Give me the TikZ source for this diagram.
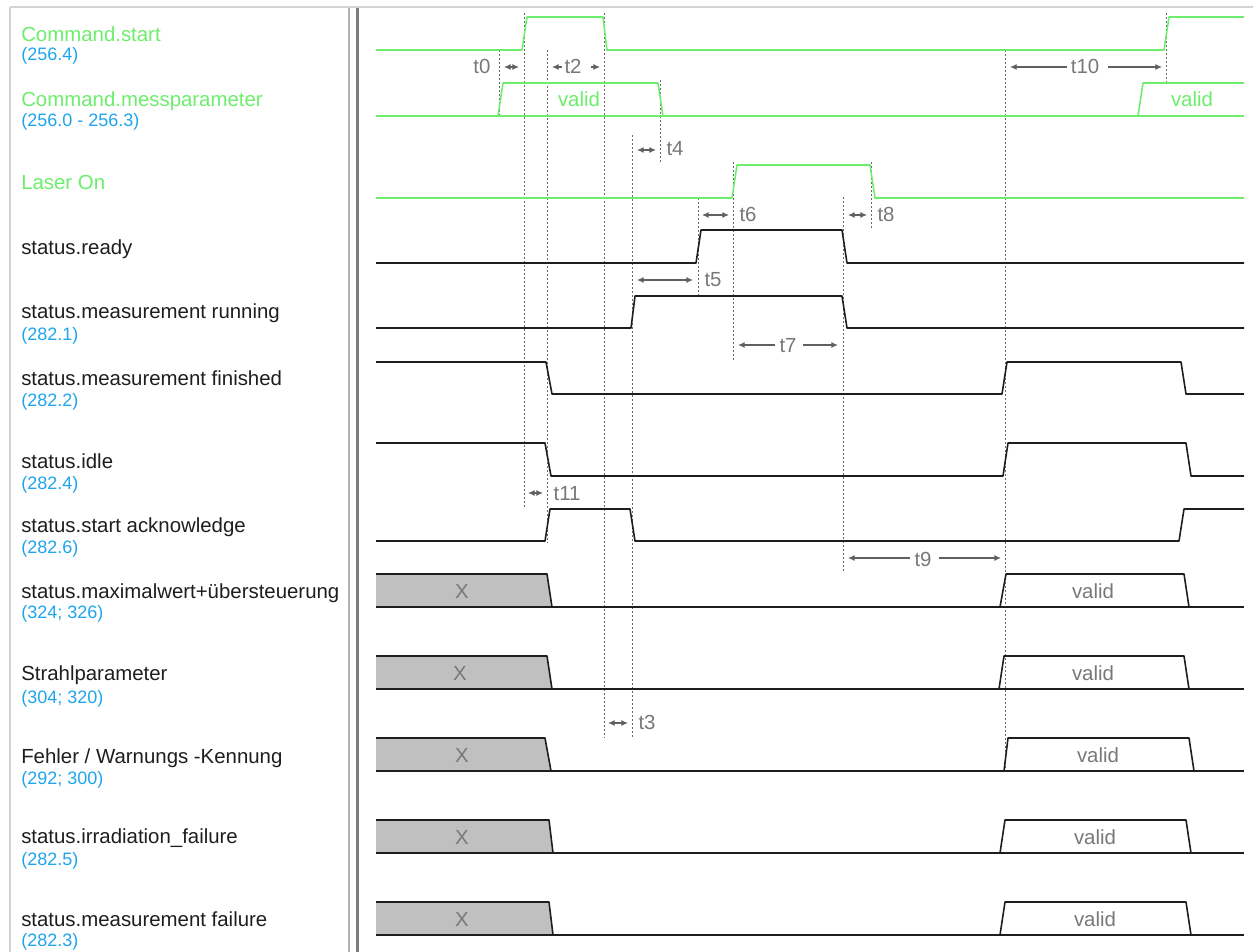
\documentclass[tikz,border=0pt]{standalone}
\usepackage{fontspec}
\setmainfont{Liberation Sans}
\usetikzlibrary{arrows.meta}
\definecolor{sgreen}{RGB}{108,238,108}
\definecolor{sblue}{RGB}{30,165,235}
\definecolor{tgray}{RGB}{120,120,120}
\definecolor{guidegray}{RGB}{105,105,105}
\definecolor{xgray}{RGB}{192,192,192}
\definecolor{framelight}{RGB}{212,212,212}
\definecolor{framedark}{RGB}{125,125,125}
\definecolor{ink}{RGB}{30,30,30}
\tikzset{
  gsig/.style={draw=sgreen, line width=1.15pt, line join=round},
  bsig/.style={draw=ink, line width=1.2pt, line join=round},
  xfill/.style={fill=xgray, draw=none},
  guide/.style={draw=guidegray, line width=0.7pt, dash pattern=on 1.5pt off 1.5pt},
  dimline/.style={draw=tgray!80!black, line width=0.8pt},
  dimboth/.style={dimline, {Latex[length=5pt,width=4.5pt]}-{Latex[length=5pt,width=4.5pt]}},
  dimto/.style={dimline, -{Latex[length=5pt,width=4.5pt]}},
  lbl/.style={font=\fontsize{15.3}{18}\selectfont, text=ink, anchor=base west, inner sep=0pt},
  glbl/.style={lbl, text=sgreen},
  sub/.style={font=\fontsize{13.5}{16}\selectfont, text=sblue, anchor=base west, inner sep=0pt},
  tlbl/.style={font=\fontsize{15.3}{18}\selectfont, text=tgray, anchor=base, inner sep=0pt},
  gtlbl/.style={tlbl, text=sgreen}
}
\begin{document}
\begin{tikzpicture}[x=0.75pt, y=-0.75pt]
\useasboundingbox (0,0) rectangle (1253,952);
% frame
\draw[framelight, line width=1.5pt] (10,7) -- (1253,7);
\draw[framelight, line width=1.5pt] (10,7) -- (10,952);
\draw[framelight!85!black, line width=1.5pt] (349,8) -- (349,952);
\draw[framedark, line width=2.2pt] (357.5,8) -- (357.5,952);

% labels
\node[glbl] (l1) at (21,42) {Command.start};
\node[sub] (s1) at (21,61) {(256.4)};
\node[glbl] (l2) at (21,107) {Command.messparameter};
\node[sub] (s2) at (21,127) {(256.0 - 256.3)};
\node[glbl] (l3) at (21,190) {Laser On};
\node[lbl] (l4) at (21,255) {status.ready};
\node[lbl] (l5) at (21,319) {status.measurement running};
\node[sub] (s5) at (21,340) {(282.1)};
\node[lbl] (l6) at (21,385) {status.measurement finished};
\node[sub] (s6) at (21,406) {(282.2)};
\node[lbl] (l7) at (21,468) {status.idle};
\node[sub] (s7) at (21,489) {(282.4)};
\node[lbl] (l8) at (21,532) {status.start acknowledge};
\node[sub] (s8) at (21,553) {(282.6)};
\node[lbl] (l9) at (21,598) {status.maximalwert+übersteuerung};
\node[sub] (s9) at (21,618) {(324; 326)};
\node[lbl] (l10) at (21,680) {Strahlparameter};
\node[sub] (s10) at (21,703) {(304; 320)};
\node[lbl] (l11) at (21,763) {Fehler / Warnungs -Kennung};
\node[sub] (s11) at (21,784) {(292; 300)};
\node[lbl] (l12) at (21,843) {status.irradiation\_failure};
\node[sub] (s12) at (21,865) {(282.5)};
\node[lbl] (l13) at (21,926) {status.measurement failure};
\node[sub] (s13) at (21,946) {(282.3)};

% X boxes (fill first)
\foreach \T/\B/\ra/\rb in {574/607/547/552, 656/689/547/552, 738/771/545/551, 820/853/549/553, 902/935/549/553}{
  \fill[xgray] (376,\T) -- (\ra,\T) -- (\rb,\B) -- (376,\B) -- cycle;
}

% guides
\draw[guide] (499,50) -- (499,118);
\draw[guide] (524,13) -- (524,509);
\draw[guide] (547,50) -- (547,543);
\draw[guide] (604,13) -- (604,738);
\draw[guide] (632,135) -- (632,738);
\draw[guide] (660,80) -- (660,162);
\draw[guide] (698,198) -- (698,295);
\draw[guide] (733,162) -- (733,362);
\draw[guide] (843,197) -- (843,572);
\draw[guide] (871,162) -- (871,230);
\draw[guide] (1005,50) -- (1005,773);
\draw[guide] (1166,13) -- (1166,83);

% green signals
\draw[gsig] (376,50) -- (522,50) -- (527,17) -- (603,17) -- (607,50) -- (1164,50) -- (1169,17) -- (1244,17);
\draw[gsig] (376,116) -- (1244,116);
\draw[gsig] (498,116) -- (503,83) -- (658,83) -- (663,116);
\draw[gsig] (1138,116) -- (1143,83) -- (1244,83);
\node[gtlbl] (v1) at (579,107) {valid};
\node[gtlbl] (v2) at (1192,107) {valid};
\draw[gsig] (376,198) -- (732,198) -- (737,165) -- (870,165) -- (875,198) -- (1244,198);

% black signals
\draw[bsig] (376,263) -- (696,263) -- (701,230) -- (842,230) -- (847,263) -- (1244,263);
\draw[bsig] (376,328) -- (631,328) -- (635,296) -- (842,296) -- (847,328) -- (1244,328);
\draw[bsig] (376,362) -- (546,362) -- (552,394) -- (1002,394) -- (1007,362) -- (1181,362) -- (1186,394) -- (1244,394);
\draw[bsig] (376,443) -- (545,443) -- (551,476) -- (1003,476) -- (1008,443) -- (1186,443) -- (1191,476) -- (1244,476);
\draw[bsig] (376,541) -- (545,541) -- (550,509) -- (630,509) -- (635,541) -- (1179,541) -- (1184,509) -- (1244,509);

% bus rows
\foreach \T/\B/\ra/\rb/\va/\vb/\vc/\vd/\xc/\vcx [count=\i] in {
  574/607/547/552/1000/1006/1184/1189/462/1093,
  656/689/547/552/999/1004/1184/1189/460/1093,
  738/771/545/551/1004/1008/1189/1194/462/1098,
  820/853/549/553/1000/1005/1186/1191/462/1095,
  902/935/549/553/1000/1005/1186/1191/462/1095}{
  \draw[bsig] (376,\B) -- (1244,\B);
  \draw[bsig] (376,\T) -- (\ra,\T) -- (\rb,\B);
  \draw[bsig] (\va,\B) -- (\vb,\T) -- (\vc,\T) -- (\vd,\B);
  \node[tlbl] (x\i) at (\xc,\B-9) {X};
  \node[tlbl] (val\i) at (\vcx,\B-9) {valid};
}

% dimensions
\draw[dimboth] (504,67) -- (519,67);
\node[tlbl] (t0) at (482,74) {t0};
\draw[dimto] (562,67) -- (552,67);
\node[tlbl] (t2) at (573,74) {t2};
\draw[dimto] (591,67) -- (600,67);
\draw[dimboth] (637,150) -- (656,150);
\node[tlbl] (t4) at (675,156) {t4};
\draw[dimboth] (702,215) -- (729,215);
\node[tlbl] (t6) at (748,222) {t6};
\draw[dimboth] (637,280) -- (693,280);
\node[tlbl] (t5) at (713,287) {t5};
\draw[dimboth] (848,215) -- (867,215);
\node[tlbl] (t8) at (886,222) {t8};
\draw[dimto] (1067,67) -- (1010,67);
\node[tlbl] (t10) at (1085,74) {t10};
\draw[dimto] (1108,67) -- (1162,67);
\draw[dimto] (775,345) -- (738,345);
\node[tlbl] (t7) at (788,352) {t7};
\draw[dimto] (803,345) -- (838,345);
\draw[dimboth] (528,493) -- (543,493);
\node[tlbl] (t11) at (567,500) {t11};
\draw[dimto] (910,558) -- (848,558);
\node[tlbl] (t9) at (923,566) {t9};
\draw[dimto] (939,558) -- (1001,558);
\draw[dimboth] (608,723) -- (628,723);
\node[tlbl] (t3) at (647,729) {t3};
\end{tikzpicture}
\end{document}
